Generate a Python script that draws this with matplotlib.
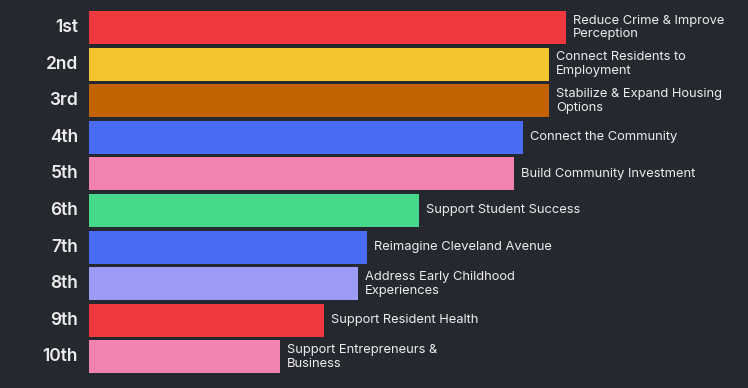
import matplotlib.pyplot as plt

# datos
rangos = ["1st", "2nd", "3rd", "4th", "5th", "6th", "7th", "8th", "9th", "10th"]
prioridades = [
    "Reduce Crime & Improve\nPerception",
    "Connect Residents to\nEmployment",
    "Stabilize & Expand Housing\nOptions",
    "Connect the Community",
    "Build Community Investment",
    "Support Student Success",
    "Reimagine Cleveland Avenue",
    "Address Early Childhood\nExperiences",
    "Support Resident Health",
    "Support Entrepreneurs &\nBusiness",
]
valores = [477, 460, 460, 434, 425, 330, 278, 269, 235, 191]
colores = ["#f0383f", "#f4c42e", "#c06300", "#4a6bf6", "#f282b1",
           "#46d98b", "#4a6bf6", "#9c9cf6", "#f0383f", "#f282b1"]

fondo = "#26282f"
texto = "#ececec"

fig = plt.figure(figsize=(7.48, 3.88), dpi=100, facecolor=fondo)
ax = fig.add_axes([89 / 748, 0, 659 / 748, 1])
ax.set_facecolor(fondo)

y = list(range(len(valores)))
ax.barh(y, valores, height=0.9, color=colores)

for i, (v, t) in enumerate(zip(valores, prioridades)):
    ax.text(v + 7, i, t, va="center", ha="left", color=texto,
            fontsize=9.3, family="Inter", linespacing=1.2)
    ax.text(-11, i, rangos[i], va="center", ha="right", color=texto,
            fontsize=12.5, family="Inter", fontweight="semibold")

ax.set_xlim(0, 659)
ax.set_ylim(388 / 36.6 - 27.5 / 36.6, -27.5 / 36.6)
ax.axis("off")

fig.savefig("out.png", dpi=100, facecolor=fondo)
